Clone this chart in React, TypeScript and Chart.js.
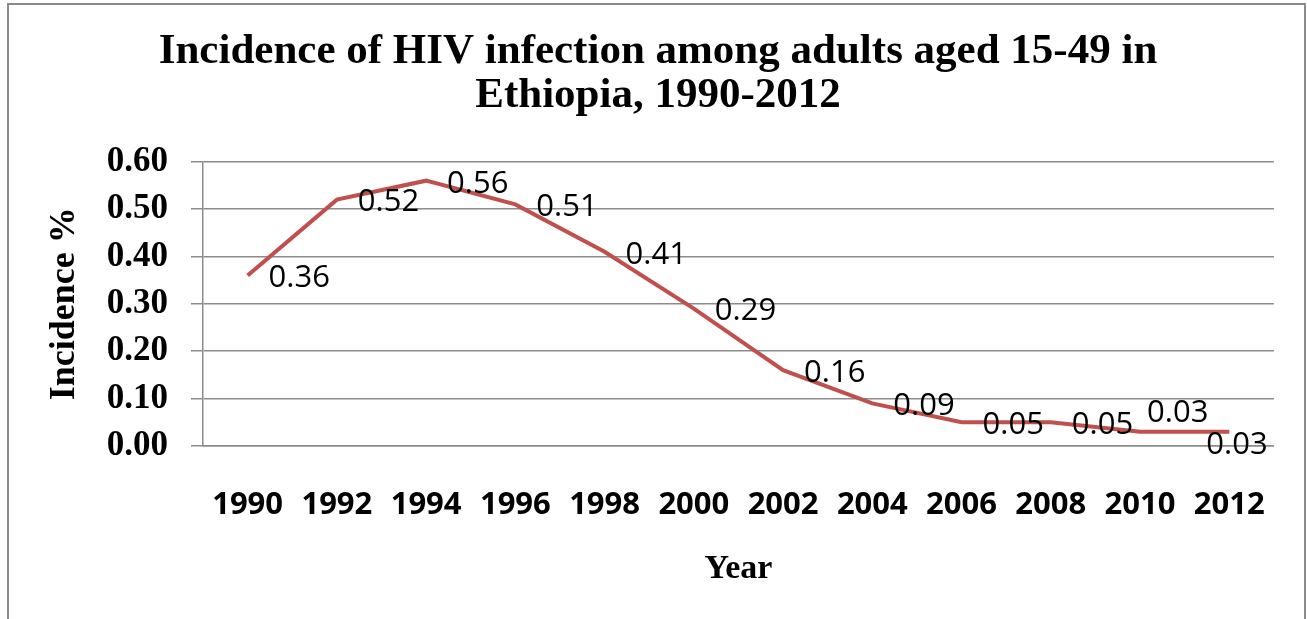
import { useEffect, useRef } from "react";
import { Chart, registerables } from "chart.js";

Chart.register(...registerables);

// ---- data ----
const years = ["1990", "1992", "1994", "1996", "1998", "2000", "2002", "2004", "2006", "2008", "2010", "2012"];
const incidence = [0.36, 0.52, 0.56, 0.51, 0.41, 0.29, 0.16, 0.09, 0.05, 0.05, 0.03, 0.03];
const yTickValues = [0, 0.1, 0.2, 0.3, 0.4, 0.5, 0.6];
const titleLines = ["Incidence of HIV infection among adults aged 15-49 in", "Ethiopia, 1990-2012"];
const xTitle = "Year";
const yTitle = "Incidence %";

// ---- styling ----
const SERIF = "'Liberation Serif', 'Times New Roman', serif";
const SANS = "'Open Sans', 'Noto Sans', sans-serif";
const GRID = "#8c8c8c";
const LINE = "#C0504D";
const LABEL_FONT = `31px ${SANS}`;

// Value labels sit to the right of each point; the last two are nudged so they
// stay clear of each other and inside the plot's right edge.
const defaultLabelShift = { dx: 21, dy: 3 };
const labelShift: Record<number, { dx: number; dy: number }> = {
  10: { dx: 7, dy: -19 },
  11: { dx: -23, dy: 13 },
};

const pointLabels = {
  id: "pointLabels",
  afterDatasetsDraw(chart: Chart) {
    const { ctx } = chart;
    const meta = chart.getDatasetMeta(0);
    const values = chart.data.datasets[0].data as number[];
    ctx.save();
    ctx.font = LABEL_FONT;
    ctx.fillStyle = "#000";
    ctx.textAlign = "left";
    ctx.textBaseline = "middle";
    meta.data.forEach((pt, i) => {
      const s = labelShift[i] ?? defaultLabelShift;
      ctx.fillText(values[i].toFixed(2), pt.x + s.dx, pt.y + s.dy);
    });
    ctx.restore();
  },
};

export default function App() {
  const ref = useRef<HTMLCanvasElement>(null);

  useEffect(() => {
    const canvas = ref.current;
    if (!canvas) return;
    let alive = true;

    const chart = new Chart(canvas, {
      type: "line",
      data: {
        labels: years,
        datasets: [
          {
            data: incidence,
            borderColor: LINE,
            backgroundColor: LINE,
            borderWidth: 4,
            pointRadius: 0,
            pointHoverRadius: 0,
            tension: 0,
            fill: false,
          },
        ],
      },
      options: {
        responsive: false,
        animation: false,
        devicePixelRatio: 1,
        layout: { padding: { left: 39, right: 30, top: 0, bottom: 0 } },
        plugins: {
          legend: { display: false },
          tooltip: { enabled: false },
          title: {
            display: true,
            text: titleLines,
            color: "#000",
            font: { family: SERIF, size: 43, weight: "bold", lineHeight: 1.02 },
            padding: { top: 30, bottom: 44 },
          },
        },
        scales: {
          x: {
            type: "category",
            offset: true,
            grid: { display: false, drawTicks: false },
            border: { display: true, color: GRID, width: 1.5 },
            ticks: {
              color: "#000",
              font: { family: SANS, size: 31, weight: "bold" },
              padding: 41,
              maxRotation: 0,
              autoSkip: false,
            },
            title: {
              display: true,
              text: xTitle,
              color: "#000",
              font: { family: SERIF, size: 34, weight: "bold" },
              padding: { top: 0, bottom: 29 },
            },
            afterFit(scale: any) {
              scale.height = 173;
            },
          },
          y: {
            min: 0,
            max: 0.6,
            grid: { color: GRID, lineWidth: 1.5, drawTicks: true, tickLength: 12 },
            border: { display: true, color: GRID, width: 1.5 },
            ticks: {
              color: "#000",
              font: { family: SERIF, size: 35, weight: "bold" },
              padding: 23,
              callback: (v: any) => Number(v).toFixed(2),
            },
            afterBuildTicks(scale: any) {
              scale.ticks = yTickValues.map((value) => ({ value }));
            },
            title: {
              display: true,
              text: yTitle,
              color: "#000",
              font: { family: SERIF, size: 36, weight: "bold" },
              padding: { top: 4, bottom: 0 },
            },
            afterFit(scale: any) {
              scale.width = 164;
            },
          },
        },
      },
      plugins: [pointLabels],
    });

    Promise.all([
      document.fonts.load(`bold 35px ${SERIF}`),
      document.fonts.load(`31px ${SANS}`),
      document.fonts.load(`bold 31px ${SANS}`),
    ])
      .catch(() => undefined)
      .then(() => {
        if (alive) chart.update();
      });

    return () => {
      alive = false;
      chart.destroy();
    };
  }, []);

  return (
    <div
      style={{
        position: "fixed",
        left: 0,
        top: 0,
        width: 1307,
        height: 619,
        overflow: "hidden",
        background: "#fff",
      }}
    >
      <div
        style={{
          position: "absolute",
          left: 7,
          top: 3,
          width: 1299,
          height: 700,
          border: "2px solid #8a8a8a",
          boxSizing: "border-box",
        }}
      />
      <canvas
        ref={ref}
        width={1307}
        height={619}
        style={{ position: "absolute", left: 0, top: 0, width: 1307, height: 619 }}
      />
    </div>
  );
}
